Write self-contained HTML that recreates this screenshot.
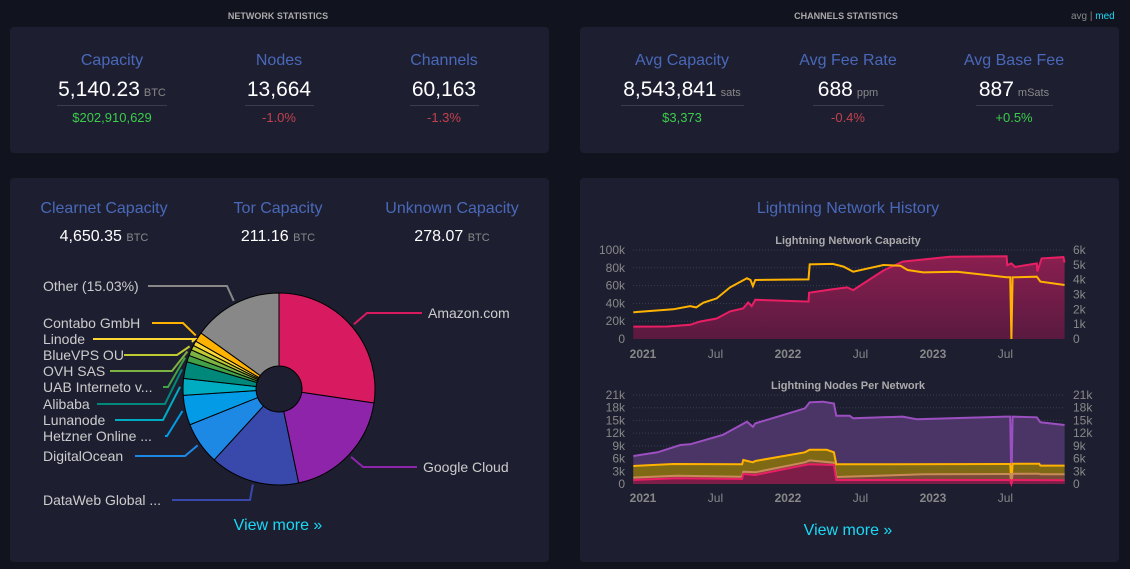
<!DOCTYPE html>
<html><head><meta charset="utf-8">
<style>
body{margin:0;width:1130px;height:569px;background:#11131f;font-family:"Liberation Sans",sans-serif;overflow:hidden;position:relative}
.card{position:absolute;background:#1d1f31;border-radius:4px}
.t{position:absolute;transform:translateX(-50%);white-space:nowrap;text-align:center}
.hd{font-size:9px;font-weight:bold;color:#aaa;top:11px}
.ti{font-size:16px;color:#4a68b9}
.va{font-size:21px;color:#fff}
.va small{font-size:11px;color:#888;margin-left:4px}
.sub{font-size:13px}
.ul{position:absolute;height:1px;background:#3a3c50}
.vm{font-size:16px;color:#1bd8f4}
</style></head><body>
<div class="t hd" style="left:278px">NETWORK STATISTICS</div>
<div class="t hd" style="left:846px">CHANNELS STATISTICS</div>
<div style="position:absolute;left:1071px;top:11px;font-size:10px;color:#888">avg | <span style="color:#1bd8f4">med</span></div>

<div class="card" style="left:10px;top:27px;width:539px;height:126px"></div>
<div class="card" style="left:580px;top:27px;width:539px;height:126px"></div>
<div class="card" style="left:10px;top:178px;width:539px;height:384px"></div>
<div class="card" style="left:580px;top:178px;width:539px;height:384px"></div>

<div class="t ti" style="left:112px;top:52px">Capacity</div>
<div class="t va" style="left:112px;top:78px">5,140.23<small>BTC</small></div>
<div class="ul" style="left:57px;top:105px;width:110px"></div>
<div class="t sub" style="left:112px;top:110px;color:#3bcc49">$202,910,629</div>
<div class="t ti" style="left:279px;top:52px">Nodes</div>
<div class="t va" style="left:279px;top:78px">13,664</div>
<div class="ul" style="left:245px;top:105px;width:69px"></div>
<div class="t sub" style="left:279px;top:110px;color:#c2414d">-1.0%</div>
<div class="t ti" style="left:444px;top:52px">Channels</div>
<div class="t va" style="left:444px;top:78px">60,163</div>
<div class="ul" style="left:410px;top:105px;width:69px"></div>
<div class="t sub" style="left:444px;top:110px;color:#c2414d">-1.3%</div>

<div class="t ti" style="left:682px;top:52px">Avg Capacity</div>
<div class="t va" style="left:682px;top:78px">8,543,841<small>sats</small></div>
<div class="ul" style="left:621px;top:105px;width:123px"></div>
<div class="t sub" style="left:682px;top:110px;color:#3bcc49">$3,373</div>
<div class="t ti" style="left:848px;top:52px">Avg Fee Rate</div>
<div class="t va" style="left:848px;top:78px">688<small>ppm</small></div>
<div class="ul" style="left:813px;top:105px;width:71px"></div>
<div class="t sub" style="left:848px;top:110px;color:#c2414d">-0.4%</div>
<div class="t ti" style="left:1014px;top:52px">Avg Base Fee</div>
<div class="t va" style="left:1014px;top:78px">887<small>mSats</small></div>
<div class="ul" style="left:976px;top:105px;width:77px"></div>
<div class="t sub" style="left:1014px;top:110px;color:#3bcc49">+0.5%</div>

<div class="t ti" style="left:104px;top:200px">Clearnet Capacity</div>
<div class="t" style="left:104px;top:228px;font-size:16px;color:#fff">4,650.35 <span style="font-size:11px;color:#888">BTC</span></div>
<div class="t ti" style="left:278px;top:200px">Tor Capacity</div>
<div class="t" style="left:278px;top:228px;font-size:16px;color:#fff">211.16 <span style="font-size:11px;color:#888">BTC</span></div>
<div class="t ti" style="left:452px;top:200px">Unknown Capacity</div>
<div class="t" style="left:452px;top:228px;font-size:16px;color:#fff">278.07 <span style="font-size:11px;color:#888">BTC</span></div>
<div class="t vm" style="left:278px;top:517px">View more »</div>
<div class="t ti" style="left:848px;top:200px">Lightning Network History</div>
<div class="t vm" style="left:848px;top:522px">View more »</div>

<svg id="s" width="1130" height="569" style="position:absolute;left:0;top:0" font-family="Liberation Sans, sans-serif"></svg>
<script>
// Pie data
const ispNames=["Amazon.com","Google Cloud","DataWeb Global ...","DigitalOcean","Hetzner Online ...","Lunanode","Alibaba","UAB Interneto v...","OVH SAS","BlueVPS OU","Linode","Contabo GmbH","Other (15.03%)"];
const ispShares=[27.2,19.3,15.0,7.1,5.0,2.8,2.8,1.1,1.0,0.8,0.8,1.6,15.03];
const ispColors=["#d81b60","#8e24aa","#3949ab","#1e88e5","#039be5","#00acc1","#00897b","#43a047","#7cb342","#c0ca33","#fdd835","#ffb300","#888888"];
// Capacity chart data (t = months since Jan 2021)
const capT=[-0.8,2,3.9,4.7,6.1,7.2,8.3,8.7,9,9.3,13.7,13.75,15.7,16.9,17.4,19.9,21.5,25.4,30.1,30.15,30.5,30.8,32.6,32.65,33,34.8,34.9];
const capBTC=[13900,14000,16000,19500,23000,31000,34500,41000,37000,44000,42000,52000,56000,58000,55000,77000,87000,92500,93000,83000,85000,81000,85000,76000,90600,92000,86000];
const chT=[-0.8,2.5,3.9,4.4,5,6.1,7.2,8.6,8.9,9.1,9.3,13.7,13.8,15.7,16.6,17.4,19.9,21.3,21.9,23.2,26,30.1,30.4,30.5,30.6,32.6,32.9,34.9];
const chCount=[1800,2000,2220,2130,2450,2740,3480,4090,3980,3570,3980,4020,5030,5060,4880,4540,4990,4940,4650,4490,4540,4160,4160,0,4160,4200,3870,3640];
// Nodes chart data
const totT=[-0.8,1.2,3.1,3.9,6.6,8.6,9.1,9.3,13.4,13.8,14.9,15.8,16,17.1,17.4,21.5,22.7,30.1,30.4,30.5,30.6,32.6,32.9,34.9];
const totNodes=[6600,7470,9200,9360,11560,14700,13500,14300,17850,19270,19430,19000,16120,16120,15500,15900,15260,15900,15900,0,15900,15730,14550,13920];
const clrT=[-0.8,2.5,8.2,8.3,9.1,9.3,13.4,13.8,15.2,15.8,16,30.1,30.4,30.5,30.6,32.8,32.9,34.9];
const clrNodes=[4250,4720,4640,5660,5110,5430,7470,8100,8100,7470,4640,4720,4720,0,4800,4800,4330,4330];
const torT=[-0.8,2.8,8.2,8.3,9.3,13.4,13.8,15.8,16,23.2,30.1,30.4,30.5,30.6,32.8,32.9,34.9];
const torNodes=[1500,1970,1730,2910,2750,5110,5580,5030,1650,2280,2360,2360,0,2440,2440,2280,2280];
const unkT=[-0.8,2.8,8.2,8.3,9.3,13.4,13.8,15.8,16,30.1,30.4,30.5,30.6,34.9];
const unkNodes=[940,1340,1180,2360,2120,4480,4640,4480,940,940,940,0,940,870];
const capLeftTicks=["0","20k","40k","60k","80k","100k"];
const capLeftVals=[0,20000,40000,60000,80000,100000];
const capRightTicks=["0","1k","2k","3k","4k","5k","6k"];
const capRightVals=[0,1000,2000,3000,4000,5000,6000];
const nodeTicks=["0","3k","6k","9k","12k","15k","18k","21k"];
const nodeVals=[0,3000,6000,9000,12000,15000,18000,21000];
const xLabels=["2021","Jul","2022","Jul","2023","Jul"];
const xMonths=[0,6,12,18,24,30];
const xBold=[true,false,true,false,true,false];

const svg=document.getElementById('s');const NS="http://www.w3.org/2000/svg";
function mk(tag,at,parent){const e=document.createElementNS(NS,tag);for(const k in at)e.setAttribute(k,at[k]);(parent||svg).appendChild(e);return e;}
function txt(x,y,s,at){const e=mk('text',Object.assign({x:x,y:y},at));e.textContent=s;return e;}

// defs
const defs=mk('defs',{});
const g1=mk('linearGradient',{id:'gp',x1:0,y1:0,x2:0,y2:1},defs);
mk('stop',{offset:0,'stop-color':'#8a1f50'},g1);mk('stop',{offset:1,'stop-color':'#5a1a40'},g1);

// Pie
const cx=279,cy=389,R=96,r0=23;
const total=ispShares.reduce((a,b)=>a+b,0);
let ang=0;const mids=[];
function pt(a,rr){return [cx+rr*Math.sin(a),cy-rr*Math.cos(a)];}
ispShares.forEach((v,i)=>{
  const a0=ang,a1=ang+v/total*2*Math.PI;ang=a1;mids.push((a0+a1)/2);
  const [x0,y0]=pt(a0,R),[x1,y1]=pt(a1,R),[x2,y2]=pt(a1,r0),[x3,y3]=pt(a0,r0);
  const lg=(a1-a0)>Math.PI?1:0;
  const p=mk('path',{d:`M${x0},${y0}A${R},${R} 0 ${lg} 1 ${x1},${y1}L${x2},${y2}A${r0},${r0} 0 ${lg} 0 ${x3},${y3}Z`,fill:ispColors[i],stroke:'#000','stroke-width':1});
  
  
});
const leadY=[313,467,500,456,436,420,404,387,371,355,339,323,286];
const leadX1=[422,417,172,135,165,115,97,163,110,124,93,152,148];
const leadX2=[367,363,250,185,167,163,165,168,172,177,195,183,227];
const labX=[428,423,43,43,43,43,43,43,43,43,43,43,43];
ispNames.forEach((n,i)=>{
  const [px,py]=pt(mids[i],R+3);
  const l=mk('polyline',{points:`${leadX1[i]},${leadY[i]} ${leadX2[i]},${leadY[i]} ${px},${py}`,fill:'none',stroke:ispColors[i],'stroke-width':2});
  
  
  const t=txt(labX[i],leadY[i]+5,n,{fill:'#ccc','font-size':14});
  
  
});

// Charts
const X=t=>643+t*12.08;
const x0=633,x1=1065;
function path(ts,vs,Y){return ts.map((t,i)=>(i?'L':'M')+X(t).toFixed(1)+','+Y(vs[i]).toFixed(1)).join('');}
function area(ts,vs,Y,base){return path(ts,vs,Y)+`L${X(ts[ts.length-1])},${base}L${X(ts[0])},${base}Z`;}
function xAxis(yb){xLabels.forEach((s,i)=>{const t=txt(X(xMonths[i]),yb,s,{fill:'#888','font-size':12,'text-anchor':'middle','font-weight':xBold[i]?'bold':'normal'});
 
 });}

// chart 1
const Y1L=v=>339-v/100000*89, Y1R=v=>339-v/6000*89;
const ct=txt(848,244,'Lightning Network Capacity',{fill:'#aaa','font-size':11,'font-weight':'bold','text-anchor':'middle'});


capLeftVals.forEach((v,i)=>{if(v>0)mk('line',{x1:x0,x2:x1,y1:Y1L(v),y2:Y1L(v),stroke:'#3a3d55','stroke-dasharray':'1,2'});
 const t=txt(625,Y1L(v)+4,capLeftTicks[i],{fill:'#888','font-size':12,'text-anchor':'end'});
 
 });
capRightVals.forEach((v,i)=>{const t=txt(1073,Y1R(v)+4,capRightTicks[i],{fill:'#888','font-size':12});
 
 });
const ca=mk('path',{d:area(capT,capBTC,Y1L,339),fill:'url(#gp)'});


const cl=mk('path',{d:path(capT,capBTC,Y1L),fill:'none',stroke:'#e91e63','stroke-width':2});


const chl=mk('path',{d:path(chT,chCount,Y1R),fill:'none',stroke:'#ffb300','stroke-width':2});


xAxis(358);

// chart 2
const Y2=v=>484-v/21000*89;
const nt=txt(848,389,'Lightning Nodes Per Network',{fill:'#aaa','font-size':11,'font-weight':'bold','text-anchor':'middle'});


nodeVals.forEach((v,i)=>{if(v>0)mk('line',{x1:x0,x2:x1,y1:Y2(v),y2:Y2(v),stroke:'#3a3d55','stroke-dasharray':'1,2'});
 const a=txt(625,Y2(v)+4,nodeTicks[i],{fill:'#888','font-size':12,'text-anchor':'end'});
 
 
 const b=txt(1073,Y2(v)+4,nodeTicks[i],{fill:'#888','font-size':12});
 
 });
const series=[[totT,totNodes,'#4b3566','#9c4fc0','total-nodes'],[clrT,clrNodes,'#7f6915','#ffb300','clearnet-nodes'],[torT,torNodes,'#7a4a38','#c98a5a','tor-nodes'],[unkT,unkNodes,'#7d1d48','#e91e63','unknown-nodes']];
series.forEach(s=>{const a=mk('path',{d:area(s[0],s[1],Y2,484),fill:s[2]});
 
 });
series.forEach(s=>{const l=mk('path',{d:path(s[0],s[1],Y2),fill:'none',stroke:s[3],'stroke-width':2});
 
 });
xAxis(502);
</script>
</body></html>
